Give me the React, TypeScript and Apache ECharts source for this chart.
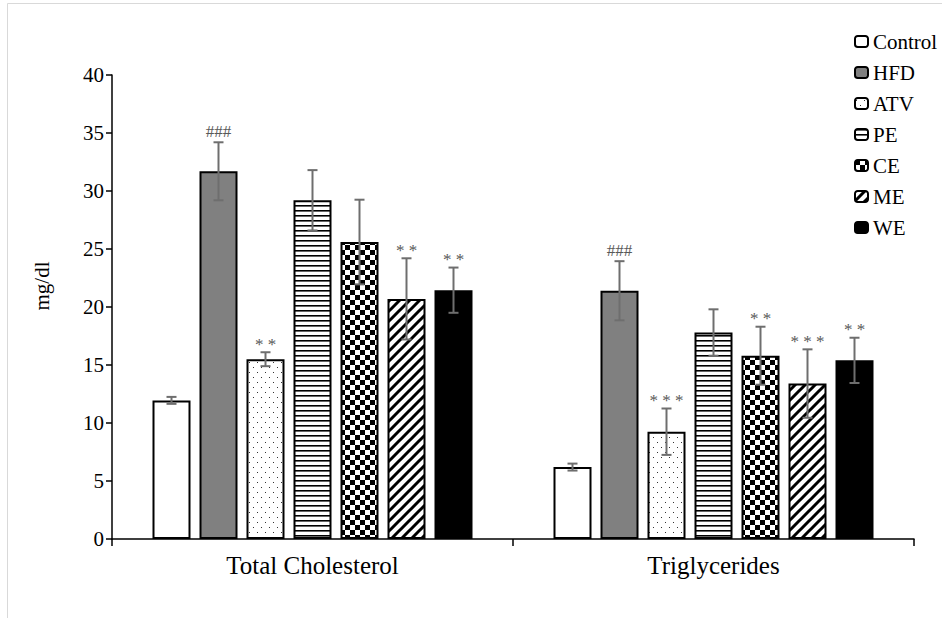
import React, { useEffect, useRef } from "react";
import * as echarts from "echarts";

const categories = ["Total Cholesterol", "Triglycerides"];
const groups = ["Control", "HFD", "ATV", "PE", "CE", "ME", "WE"];

const meanControl = [11.95, 6.2];
const sdControl = [0.3, 0.3];
const meanHFD = [31.7, 21.4];
const sdHFD = [2.5, 2.55];
const meanATV = [15.5, 9.25];
const sdATV = [0.6, 2.0];
const meanPE = [29.2, 17.8];
const sdPE = [2.6, 2.0];
const meanCE = [25.6, 15.8];
const sdCE = [3.65, 2.5];
const meanME = [20.7, 13.4];
const sdME = [3.5, 2.95];
const meanWE = [21.45, 15.4];
const sdWE = [1.95, 1.95];

const annotControl = ["", ""];
const annotHFD = ["###", "###"];
const annotATV = ["**", "***"];
const annotPE = ["", ""];
const annotCE = ["", "**"];
const annotME = ["**", "***"];
const annotWE = ["**", "**"];

const yTicks = [0, 5, 10, 15, 20, 25, 30, 35, 40];

const means = [meanControl, meanHFD, meanATV, meanPE, meanCE, meanME, meanWE];
const sds = [sdControl, sdHFD, sdATV, sdPE, sdCE, sdME, sdWE];
const annots = [annotControl, annotHFD, annotATV, annotPE, annotCE, annotME, annotWE];

const FONT = "'Liberation Serif', 'Times New Roman', serif";

function makePattern(w: number, h: number, draw: (ctx: CanvasRenderingContext2D) => void) {
  const c = document.createElement("canvas");
  c.width = w;
  c.height = h;
  const ctx = c.getContext("2d") as CanvasRenderingContext2D;
  ctx.fillStyle = "#fff";
  ctx.fillRect(0, 0, w, h);
  draw(ctx);
  return { image: c.toDataURL(), repeat: "repeat", imageWidth: w, imageHeight: h };
}

export default function App() {
  const ref = useRef<HTMLDivElement>(null);
  useEffect(() => {
    document.body.style.margin = "0";
    if (!ref.current) return;
    const chart = echarts.init(ref.current, null, { renderer: "svg" });

    const dots = makePattern(8, 10, (ctx) => {
      ctx.fillStyle = "#333";
      ctx.fillRect(1, 2, 1, 1);
      ctx.fillRect(5, 7, 1, 1);
    });
    const hlines = makePattern(4, 5, (ctx) => {
      ctx.fillStyle = "#000";
      ctx.fillRect(0, 0, 4, 1);
      ctx.fillStyle = "#666";
      ctx.fillRect(0, 1, 4, 1);
    });
    const checker = makePattern(10, 10, (ctx) => {
      ctx.fillStyle = "#000";
      ctx.fillRect(0, 0, 5, 5);
      ctx.fillRect(5, 5, 5, 5);
    });
    const diag = makePattern(10, 10, (ctx) => {
      ctx.strokeStyle = "#000";
      ctx.lineWidth = 3;
      ctx.beginPath();
      ctx.moveTo(-1, 11);
      ctx.lineTo(11, -1);
      ctx.moveTo(-6, 6);
      ctx.lineTo(6, -6);
      ctx.moveTo(4, 16);
      ctx.lineTo(16, 4);
      ctx.stroke();
    });

    const fills: any[] = ["#ffffff", "#808080", dots, hlines, checker, diag, "#000000"];

    const BAR_W = 38;
    const BAR_GAP = 9;

    const barSeries = groups.map((g, i) => ({
      name: g,
      type: "bar",
      data: means[i],
      barWidth: BAR_W,
      barGap: `${(BAR_GAP / BAR_W) * 100}%`,
      itemStyle: { color: fills[i], borderColor: "#000", borderWidth: 2 },
      z: 2,
    }));

    const errSeries = groups.map((g, i) => ({
      name: "err-" + g,
      type: "custom",
      z: 5,
      data: categories.map((_, c) => [c, means[i][c], sds[i][c]]),
      renderItem: (params: any, api: any) => {
        const c = api.value(0);
        const m = api.value(1);
        const sd = api.value(2);
        const label = annots[i][params.dataIndex];
        const off = (i - 3) * (BAR_W + BAR_GAP);
        const top = api.coord([c, m + sd]);
        const bot = api.coord([c, m - sd]);
        const x = top[0] + off;
        const cap = 5;
        const st = { stroke: "#6e6e6e", lineWidth: 2 };
        const children: any[] = [
          { type: "line", shape: { x1: x, y1: top[1], x2: x, y2: bot[1] }, style: st },
          { type: "line", shape: { x1: x - cap, y1: top[1], x2: x + cap, y2: top[1] }, style: st },
          { type: "line", shape: { x1: x - cap, y1: bot[1], x2: x + cap, y2: bot[1] }, style: st },
        ];
        if (label) {
          const isStar = label[0] === "*";
          children.push({
            type: "text",
            x: x,
            y: top[1] - (isStar ? 8 : 11),
            style: {
              text: isStar ? label.split("").join(" ") : label,
              fill: "#595959",
              font: isStar ? `17px ${FONT}` : `17px ${FONT}`,
              align: "center",
              verticalAlign: "middle",
            },
          });
        }
        return { type: "group", children };
      },
    }));

    chart.setOption({
      animation: false,
      backgroundColor: "#fff",
      grid: { left: 112, right: 28, top: 75, bottom: 79 },
      legend: {
        data: groups,
        orient: "vertical",
        left: 849,
        top: 26,
        itemWidth: 13,
        itemHeight: 11,
        itemGap: 10,
        itemStyle: { borderColor: "#000", borderWidth: 2 },
        textStyle: { fontFamily: FONT, fontSize: 21, color: "#000" },
      },
      xAxis: {
        type: "category",
        data: categories,
        axisLine: { lineStyle: { color: "#000", width: 1.5 } },
        axisTick: { show: true, length: 7, lineStyle: { color: "#000", width: 1.5 } },
        axisLabel: { fontFamily: FONT, fontSize: 25, color: "#000", margin: 14 },
      },
      yAxis: {
        type: "value",
        min: yTicks[0],
        max: yTicks[yTicks.length - 1],
        interval: yTicks[1] - yTicks[0],
        name: "mg/dl",
        nameLocation: "middle",
        nameGap: 60,
        nameTextStyle: { fontFamily: FONT, fontSize: 21, color: "#000", padding: [0, 0, 0, 42] },
        axisLine: { show: true, lineStyle: { color: "#000", width: 1.5 } },
        axisTick: { show: true, length: 6, lineStyle: { color: "#000", width: 1.5 } },
        axisLabel: { fontFamily: FONT, fontSize: 21, color: "#000", margin: 8 },
        splitLine: { show: false },
      },
      graphic: [
        { type: "line", shape: { x1: 7.5, y1: 3.5, x2: 942, y2: 3.5 }, style: { stroke: "#d9d9d9", lineWidth: 1 } },
        { type: "line", shape: { x1: 7.5, y1: 3.5, x2: 7.5, y2: 618 }, style: { stroke: "#d9d9d9", lineWidth: 1 } },
      ],
      series: [...barSeries, ...errSeries],
    });
    return () => chart.dispose();
  }, []);
  return <div ref={ref} style={{ width: 942, height: 618 }} />;
}
